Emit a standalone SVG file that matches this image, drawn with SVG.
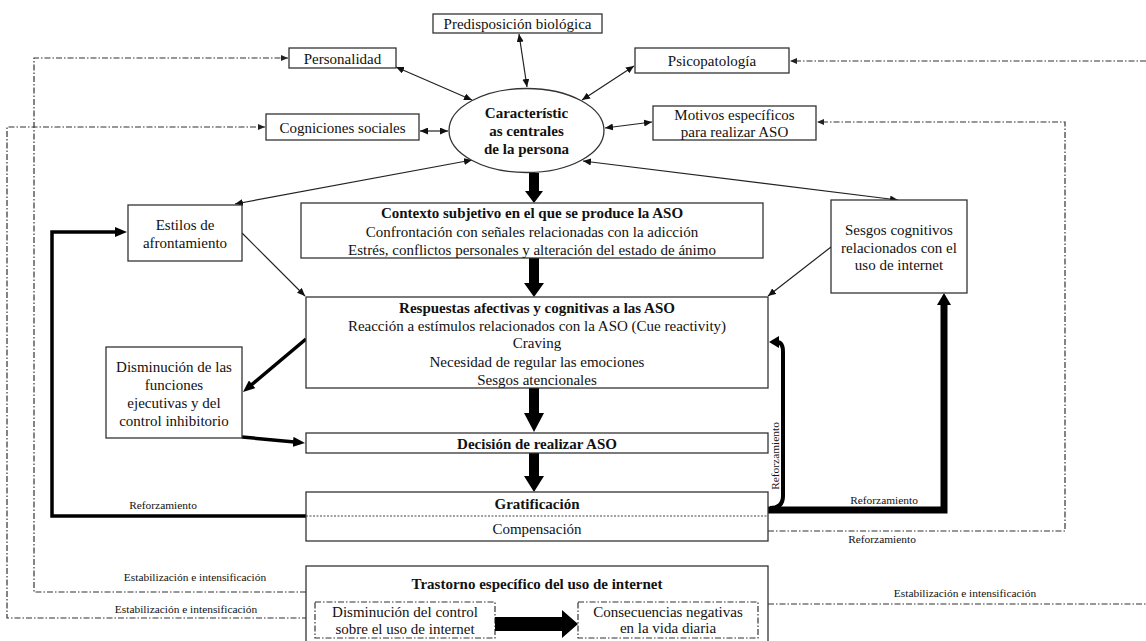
<svg xmlns="http://www.w3.org/2000/svg" width="1146" height="641" viewBox="0 0 1146 641" font-family="'Liberation Serif', 'Times New Roman', Times, 'DejaVu Serif', serif">
<style>
text{font-family:'Liberation Serif','Times New Roman',Times,'DejaVu Serif',serif;font-size:15px;fill:#111;text-anchor:middle}
.b{font-weight:bold}
.s{font-size:11.4px}
.box{fill:#fff;stroke:#333;stroke-width:1.3}
.thin{fill:none;stroke:#222;stroke-width:1.2}
.dd{fill:none;stroke:#333;stroke-width:1.2;stroke-dasharray:6 2 1.5 2}
.thick{fill:none;stroke:#000;stroke-width:3.5}
.blk{fill:#000}
</style>
<defs>
<marker id="a" viewBox="0 0 8 7" refX="8" refY="3.5" markerWidth="8" markerHeight="7" orient="auto-start-reverse" markerUnits="userSpaceOnUse"><path d="M0,0 L8,3.5 L0,7 z" fill="#111"/></marker>
<marker id="d" viewBox="0 0 7 6" refX="7" refY="3" markerWidth="7" markerHeight="6" orient="auto" markerUnits="userSpaceOnUse"><path d="M0,0 L7,3 L0,6 z" fill="#222"/></marker>
<marker id="t" viewBox="0 0 12 10" refX="7" refY="5" markerWidth="12" markerHeight="10" orient="auto" markerUnits="userSpaceOnUse"><path d="M0,0 L12,5 L0,10 z" fill="#000"/></marker>
</defs>

<g id="connectors">
<line class="thin" x1="396" y1="67" x2="472" y2="100" marker-start="url(#a)" marker-end="url(#a)"/>
<line class="thin" x1="519" y1="34" x2="527" y2="87" marker-start="url(#a)" marker-end="url(#a)"/>
<line class="thin" x1="634" y1="66" x2="582" y2="100" marker-start="url(#a)" marker-end="url(#a)"/>
<line class="thin" x1="420" y1="131" x2="448" y2="131" marker-start="url(#a)" marker-end="url(#a)"/>
<line class="thin" x1="652" y1="122" x2="605" y2="128" marker-start="url(#a)" marker-end="url(#a)"/>
<line class="thin" x1="235" y1="204" x2="472" y2="160" marker-start="url(#a)" marker-end="url(#a)"/>
<line class="thin" x1="898" y1="200" x2="583" y2="161" marker-start="url(#a)" marker-end="url(#a)"/>
<line class="thin" x1="242" y1="233" x2="305" y2="296" marker-end="url(#a)"/>
<line class="thin" x1="831" y1="247" x2="768" y2="296" marker-end="url(#a)"/>
<path class="dd" d="M306,592 H34 V58 H288" marker-end="url(#d)"/>
<path class="dd" d="M308,618 H7 V127 H265" marker-end="url(#d)"/>
<path class="dd" d="M1146,61 H790" marker-end="url(#d)"/>
<path class="dd" d="M768,531 H1065 V122 H817" marker-end="url(#d)"/>
<path class="dd" d="M768,604 H1146"/>
<line class="thick" x1="306" y1="339" x2="246.8" y2="388.8" marker-end="url(#t)"/>
<line class="thick" x1="242" y1="437" x2="300" y2="442.5" marker-end="url(#t)"/>
<path class="thick" d="M306,516 H52 V232 H122" marker-end="url(#t)"/>
<path d="M768,510 H944 V303" fill="none" stroke="#000" stroke-width="7"/>
<polygon class="blk" points="944,293 951,305 937,305"/>
<path d="M770,508 Q783,508 783,496 V352 Q783,342 777,342" fill="none" stroke="#000" stroke-width="4"/>
<polygon class="blk" points="769,342 779,336 779,348"/>
<polygon class="blk" points="529,173 539,173 539,191 543,191 534,203 525,191 529,191"/>
<polygon class="blk" points="529,258 539,258 539,283 544,283 534,297 524,283 529,283"/>
<polygon class="blk" points="529,388 539,388 539,413 544,413 534,432 524,413 529,413"/>
<polygon class="blk" points="529,453 539,453 539,476 544,476 534,492 524,476 529,476"/>
<text class="s" x="163" y="509">Reforzamiento</text>
<text class="s" x="884" y="504">Reforzamiento</text>
<text class="s" x="882" y="543">Reforzamiento</text>
<text class="s" transform="translate(779,456) rotate(-90)">Reforzamiento</text>
<text class="s" x="195" y="581">Estabilización e intensificación</text>
<text class="s" x="186" y="613">Estabilización e intensificación</text>
<text class="s" x="965" y="597">Estabilización e intensificación</text>
</g>

<g id="predisposicion"><rect class="box" x="433" y="14" width="169" height="19"/><text x="517.5" y="28.5">Predisposición biológica</text></g>
<g id="personalidad"><rect class="box" x="289" y="48" width="107" height="20"/><text x="342.5" y="63.5">Personalidad</text></g>
<g id="psicopatologia"><rect class="box" x="635" y="48" width="154" height="25"/><text x="712" y="65.5">Psicopatología</text></g>
<g id="cogniciones"><rect class="box" x="266" y="114" width="153" height="26"/><text x="342.5" y="132.5">Cogniciones sociales</text></g>
<g id="motivos"><rect class="box" x="653" y="106" width="163" height="34"/><text x="734.5" y="120">Motivos específicos</text><text x="734.5" y="137">para realizar ASO</text></g>
<g id="caracteristicas"><ellipse class="box" cx="526.5" cy="130.5" rx="77.5" ry="42"/><text class="b" x="526.5" y="118">Característic</text><text class="b" x="526.5" y="136">as centrales</text><text class="b" x="526.5" y="153.5">de la persona</text></g>
<g id="estilos"><rect class="box" x="128" y="205" width="114" height="56"/><text x="185" y="230">Estilos de</text><text x="185" y="248">afrontamiento</text></g>
<g id="contexto"><rect class="box" x="301" y="203" width="462" height="55"/><text class="b" x="532" y="218">Contexto subjetivo en el que se produce la ASO</text><text x="532" y="237">Confrontación con señales relacionadas con la adicción</text><text x="532" y="255">Estrés, conflictos personales y alteración del estado de ánimo</text></g>
<g id="sesgos"><rect class="box" x="831" y="200" width="136" height="93"/><text x="899" y="235">Sesgos cognitivos</text><text x="899" y="253">relacionados con el</text><text x="899" y="270">uso de internet</text></g>
<g id="respuestas"><rect class="box" x="306" y="297" width="462" height="91"/><text class="b" x="537" y="312.5">Respuestas afectivas y cognitivas a las ASO</text><text x="537" y="331">Reacción a estímulos relacionados con la ASO (Cue reactivity)</text><text x="537" y="348">Craving</text><text x="537" y="367">Necesidad de regular las emociones</text><text x="537" y="385">Sesgos atencionales</text></g>
<g id="disminucion"><rect class="box" x="106" y="347" width="136" height="91"/><text x="174" y="372">Disminución de las</text><text x="174" y="390">funciones</text><text x="174" y="408">ejecutivas y del</text><text x="174" y="426">control inhibitorio</text></g>
<g id="decision"><rect class="box" x="306" y="433" width="462" height="20"/><text class="b" x="537" y="448.5">Decisión de realizar ASO</text></g>
<g id="gratificacion"><rect class="box" x="306" y="492" width="462" height="49"/><line x1="306" y1="516" x2="768" y2="516" stroke="#444" stroke-width="1" stroke-dasharray="2 1.5"/><text class="b" x="537" y="508.5">Gratificación</text><text x="537" y="534">Compensación</text></g>
<g id="trastorno"><rect class="box" x="306" y="566" width="462" height="80"/><text class="b" x="537" y="588.5">Trastorno específico del uso de internet</text>
<rect x="315" y="602" width="180" height="36" fill="#fff" stroke="#333" stroke-width="1.2" stroke-dasharray="6 2 1.5 2"/><text x="405" y="617">Disminución del control</text><text x="405" y="634">sobre el uso de internet</text>
<rect x="578" y="602" width="180" height="36" fill="#fff" stroke="#333" stroke-width="1.2" stroke-dasharray="6 2 1.5 2"/><text x="668" y="617">Consecuencias negativas</text><text x="668" y="633">en la vida diaria</text>
<polygon class="blk" points="495,617 562,617 562,610 578,624 562,638 562,631 495,631"/></g>
</svg>
